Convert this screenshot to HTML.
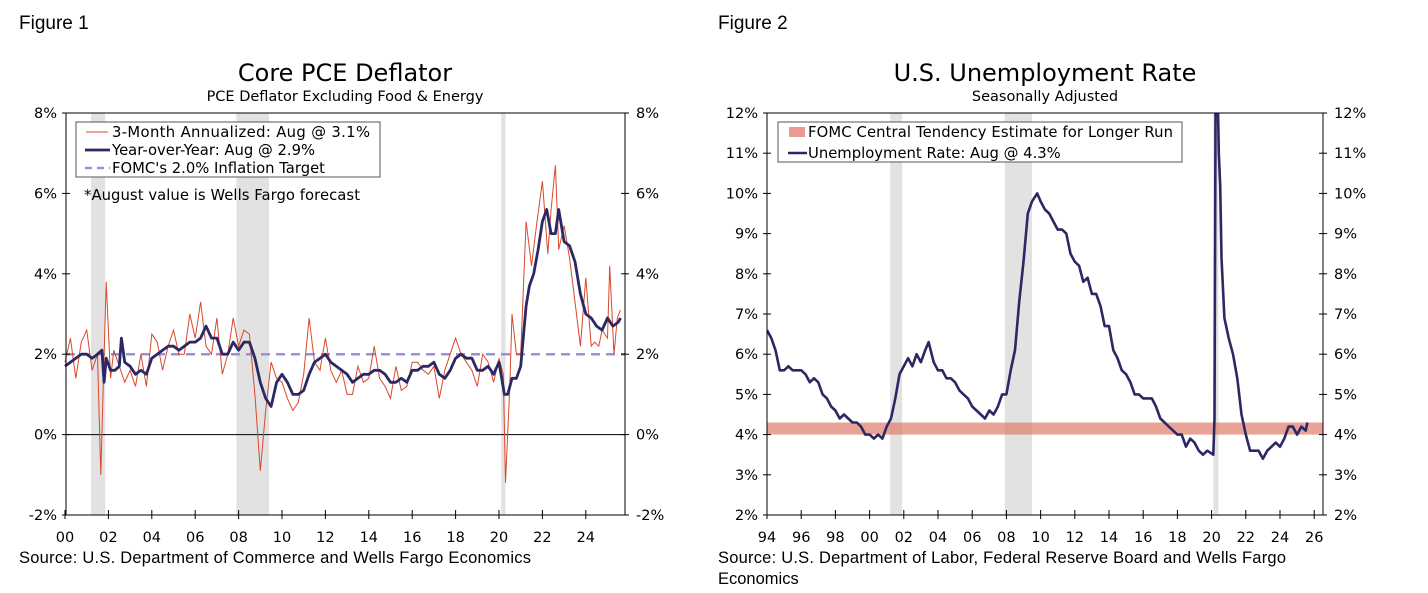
<!DOCTYPE html>
<html><head><meta charset="utf-8"><style>
html,body{margin:0;padding:0;background:#fff;}
svg{display:block;}
.fig{font-family:"Liberation Sans",sans-serif;font-size:19px;fill:#000;}
.src{font-family:"Liberation Sans",sans-serif;font-size:16.5px;fill:#000;}
.ttl{font-family:"DejaVu Sans","Liberation Sans",sans-serif;font-size:24px;fill:#000;}
.sub{font-family:"DejaVu Sans","Liberation Sans",sans-serif;font-size:14.5px;fill:#000;}
.tk{font-family:"DejaVu Sans","Liberation Sans",sans-serif;font-size:14.5px;fill:#000;}
.lg{font-family:"DejaVu Sans","Liberation Sans",sans-serif;font-size:14.8px;fill:#000;}
</style></head><body>
<svg id="page" width="1428" height="593" viewBox="0 0 1428 593">
<text class="fig" x="19" y="29">Figure 1</text>
<text class="fig" x="718" y="29">Figure 2</text>
<text class="ttl" x="345" y="81" text-anchor="middle">Core PCE Deflator</text>
<text class="sub" x="345" y="101" text-anchor="middle">PCE Deflator Excluding Food &amp; Energy</text>
<text class="ttl" x="1045" y="81" text-anchor="middle">U.S. Unemployment Rate</text>
<text class="sub" x="1045" y="101" text-anchor="middle">Seasonally Adjusted</text>
<text class="src" x="19" y="563" textLength="512">Source: U.S. Department of Commerce and Wells Fargo Economics</text>
<text class="src" x="718" y="563" textLength="568">Source: U.S. Department of Labor, Federal Reserve Board and Wells Fargo</text>
<text class="src" x="718" y="584">Economics</text>
<g id="c1"></g>
<g id="c2"></g>
</svg>
<script>
// ---------- Chart 1 data ----------
const pceYoyDates = [2000,2000.25,2000.5,2000.75,2001,2001.25,2001.5,2001.7,2001.8,2001.9,2002.1,2002.3,2002.5,2002.6,2002.75,2003,2003.25,2003.5,2003.75,2004,2004.25,2004.5,2004.75,2005,2005.25,2005.5,2005.75,2006,2006.25,2006.5,2006.75,2007,2007.25,2007.5,2007.75,2008,2008.25,2008.5,2008.75,2009,2009.25,2009.5,2009.75,2010,2010.25,2010.5,2010.75,2011,2011.25,2011.5,2011.75,2012,2012.25,2012.5,2012.75,2013,2013.25,2013.5,2013.75,2014,2014.25,2014.5,2014.75,2015,2015.25,2015.5,2015.75,2016,2016.25,2016.5,2016.75,2017,2017.25,2017.5,2017.75,2018,2018.25,2018.5,2018.75,2019,2019.25,2019.5,2019.75,2020,2020.25,2020.4,2020.6,2020.8,2021,2021.25,2021.4,2021.6,2021.8,2022,2022.2,2022.4,2022.6,2022.75,2023,2023.25,2023.5,2023.75,2024,2024.25,2024.5,2024.75,2025,2025.25,2025.5,2025.6];
const pceYoy = [1.7,1.8,1.9,2.0,2.0,1.9,2.0,2.1,1.3,1.9,1.6,1.6,1.7,2.4,1.8,1.7,1.5,1.6,1.5,1.9,2.0,2.1,2.2,2.2,2.1,2.2,2.3,2.3,2.4,2.7,2.4,2.4,2.0,2.0,2.3,2.1,2.3,2.3,1.9,1.3,0.9,0.7,1.3,1.5,1.3,1.0,1.0,1.1,1.5,1.8,1.9,2.0,1.8,1.7,1.6,1.5,1.3,1.4,1.5,1.5,1.6,1.6,1.5,1.3,1.3,1.4,1.3,1.6,1.6,1.7,1.7,1.8,1.5,1.4,1.6,1.9,2.0,1.9,1.9,1.6,1.6,1.7,1.5,1.8,1.0,1.0,1.4,1.4,1.7,3.2,3.7,4.0,4.6,5.3,5.6,5.0,5.0,5.6,4.8,4.7,4.3,3.5,3.0,2.9,2.7,2.6,2.9,2.7,2.8,2.9];
const pce3mDates = [2000,2000.25,2000.5,2000.75,2001,2001.25,2001.5,2001.65,2001.8,2001.9,2002.1,2002.25,2002.5,2002.75,2003,2003.25,2003.5,2003.75,2004,2004.25,2004.5,2004.75,2005,2005.25,2005.5,2005.75,2006,2006.25,2006.5,2006.75,2007,2007.25,2007.5,2007.75,2008,2008.25,2008.5,2008.75,2009,2009.25,2009.5,2009.75,2010,2010.25,2010.5,2010.75,2011,2011.25,2011.5,2011.75,2012,2012.25,2012.5,2012.75,2013,2013.25,2013.5,2013.75,2014,2014.25,2014.5,2014.75,2015,2015.25,2015.5,2015.75,2016,2016.25,2016.5,2016.75,2017,2017.25,2017.5,2017.75,2018,2018.25,2018.5,2018.75,2019,2019.25,2019.5,2019.75,2020,2020.2,2020.3,2020.5,2020.6,2020.8,2021,2021.25,2021.5,2021.75,2022,2022.25,2022.4,2022.6,2022.75,2023,2023.25,2023.5,2023.75,2024,2024.25,2024.4,2024.6,2024.75,2025,2025.1,2025.3,2025.45,2025.6];
const pce3m = [1.8,2.4,1.4,2.3,2.6,1.6,2.0,-1.0,2.0,3.8,1.4,2.1,1.7,1.3,1.6,1.2,2.0,1.2,2.5,2.3,1.6,2.2,2.6,2.0,2.0,3.0,2.4,3.3,2.2,2.0,2.9,1.5,2.0,2.9,2.2,2.6,2.5,1.0,-0.9,0.6,1.8,1.4,1.3,0.9,0.6,0.8,1.5,2.9,1.8,1.6,2.4,1.6,1.3,1.6,1.0,1.0,1.7,1.3,1.4,2.2,1.4,1.2,0.9,1.7,1.1,1.2,1.8,1.8,1.6,1.5,1.7,0.9,1.6,2.0,2.4,2.0,1.8,1.6,1.2,2.0,1.8,1.3,1.9,1.5,-1.2,1.2,3.0,2.0,2.0,5.3,4.2,5.3,6.3,4.5,5.6,6.7,4.6,5.2,4.4,3.3,2.2,3.9,2.2,2.3,2.2,2.6,2.4,4.2,2.0,2.9,3.1];
const pceTarget = [2.0];
const pceYTicks = [-2,0,2,4,6,8];
const pceXTicks = [2000,2002,2004,2006,2008,2010,2012,2014,2016,2018,2020,2022,2024];
const recessions1 = [[2001.2,2001.85],[2007.9,2009.4],[2020.1,2020.3]];
// ---------- Chart 2 data ----------
const urDates = [1994,1994.25,1994.5,1994.75,1995,1995.25,1995.5,1995.75,1996,1996.25,1996.5,1996.75,1997,1997.25,1997.5,1997.75,1998,1998.25,1998.5,1998.75,1999,1999.25,1999.5,1999.75,2000,2000.25,2000.5,2000.75,2001,2001.25,2001.5,2001.75,2002,2002.25,2002.5,2002.75,2003,2003.25,2003.45,2003.75,2004,2004.25,2004.5,2004.75,2005,2005.25,2005.5,2005.75,2006,2006.25,2006.5,2006.75,2007,2007.25,2007.5,2007.75,2008,2008.25,2008.5,2008.75,2009,2009.25,2009.5,2009.8,2010,2010.25,2010.5,2010.75,2011,2011.25,2011.5,2011.75,2012,2012.25,2012.5,2012.75,2013,2013.25,2013.5,2013.75,2014,2014.25,2014.5,2014.75,2015,2015.25,2015.5,2015.75,2016,2016.25,2016.5,2016.75,2017,2017.25,2017.5,2017.75,2018,2018.25,2018.5,2018.75,2019,2019.25,2019.5,2019.75,2020.1,2020.17,2020.25,2020.33,2020.42,2020.5,2020.58,2020.75,2021,2021.25,2021.5,2021.75,2022,2022.25,2022.5,2022.75,2023,2023.25,2023.5,2023.75,2024,2024.25,2024.5,2024.75,2025,2025.25,2025.5,2025.6];
const urValues = [6.6,6.4,6.1,5.6,5.6,5.7,5.6,5.6,5.6,5.5,5.3,5.4,5.3,5.0,4.9,4.7,4.6,4.4,4.5,4.4,4.3,4.3,4.2,4.0,4.0,3.9,4.0,3.9,4.2,4.4,4.9,5.5,5.7,5.9,5.7,6.0,5.8,6.1,6.3,5.8,5.6,5.6,5.4,5.4,5.3,5.1,5.0,4.9,4.7,4.6,4.5,4.4,4.6,4.5,4.7,5.0,5.0,5.6,6.1,7.3,8.3,9.5,9.8,10.0,9.8,9.6,9.5,9.3,9.1,9.1,9.0,8.5,8.3,8.2,7.8,7.9,7.5,7.5,7.2,6.7,6.7,6.1,5.9,5.6,5.5,5.3,5.0,5.0,4.9,4.9,4.9,4.7,4.4,4.3,4.2,4.1,4.0,4.0,3.7,3.9,3.8,3.6,3.5,3.6,3.5,4.4,14.8,13.2,11.0,10.2,8.4,6.9,6.4,6.0,5.4,4.5,4.0,3.6,3.6,3.6,3.4,3.6,3.7,3.8,3.7,3.9,4.2,4.2,4.0,4.2,4.1,4.3];
const urBand = [4.0,4.3];
const urYTicks = [2,3,4,5,6,7,8,9,10,11,12];
const urXTicks = [1994,1996,1998,2000,2002,2004,2006,2008,2010,2012,2014,2016,2018,2020,2022,2024,2026];
const recessions2 = [[2001.2,2001.9],[2007.9,2009.5],[2020.1,2020.4]];

const NS='http://www.w3.org/2000/svg';
function mk(parent,tag,attrs){const e=document.createElementNS(NS,tag);for(const k in attrs)e.setAttribute(k,attrs[k]);parent.appendChild(e);return e;}
function lab(yr){return String(yr%100).padStart(2,'0');}

function axes(g,X,Y,x0,x1,y0,y1,yTicks,xTicks){
  for(const t of yTicks){
    const tl=mk(g,'line',{x1:x0-4,x2:x0+4,y1:Y(t),y2:Y(t),stroke:'#000','stroke-width':1});
     
    const tr=mk(g,'line',{x1:x1-4,x2:x1+4,y1:Y(t),y2:Y(t),stroke:'#000','stroke-width':1});
     
    const a=mk(g,'text',{x:x0-9,y:Y(t)+5,'text-anchor':'end',class:'tk'});a.textContent=t+'%';
     
    const b=mk(g,'text',{x:x1+11,y:Y(t)+5,'text-anchor':'start',class:'tk'});b.textContent=t+'%';
     
  }
  for(const t of xTicks){
    const tk=mk(g,'line',{x1:X(t),x2:X(t),y1:y1-5,y2:y1+4,stroke:'#000','stroke-width':1});
     
    const a=mk(g,'text',{x:X(t),y:y1+27,'text-anchor':'middle',class:'tk'});a.textContent=lab(t);
     
  }
}
function line(g,X,Y,xs,ys,attrs,name){
  const d=xs.map((x,i)=>(i?'L':'M')+X(x).toFixed(1)+','+Y(ys[i]).toFixed(1)).join('');
  const p=mk(g,'path',Object.assign({d:d,fill:'none'},attrs));
   
  return p;
}

// ---- Chart 1 ----
(function(){
  const g=document.getElementById('c1');
  const x0=66,x1=625,y0=113,y1=515;
  const X=v=>65+(v-2000)*21.7;
  const Y=v=>y1-(v+2)*(y1-y0)/10;
  for(const r of recessions1){
    const e=mk(g,'rect',{x:X(r[0]),y:y0,width:X(r[1])-X(r[0]),height:y1-y0,fill:'#e2e2e2'});
     
  }
  const z=mk(g,'line',{x1:x0,x2:x1,y1:Y(0),y2:Y(0),stroke:'#000','stroke-width':1});
   
  const tl=mk(g,'line',{x1:x0,x2:x1,y1:Y(pceTarget[0]),y2:Y(pceTarget[0]),stroke:'#9b8fdc','stroke-width':2.5,'stroke-dasharray':'9,6'});
   
  line(g,X,Y,pce3mDates,pce3m,{stroke:'#d9482b','stroke-width':1},'three-month-annualized-line');
  line(g,X,Y,pceYoyDates,pceYoy,{stroke:'#2b2863','stroke-width':2.8,'stroke-linejoin':'round'},'year-over-year-line');
  const fr=mk(g,'rect',{x:x0,y:y0,width:x1-x0,height:y1-y0,fill:'none',stroke:'#000','stroke-width':1});
   
  axes(g,X,Y,x0,x1,y0,y1,pceYTicks,pceXTicks);
  const lg=mk(g,'g',{});
   
  mk(lg,'rect',{x:76,y:122,width:304,height:55,fill:'#fff',stroke:'#555','stroke-width':1});
  mk(lg,'line',{x1:86,x2:108,y1:132,y2:132,stroke:'#d9482b','stroke-width':1});
  mk(lg,'line',{x1:85,x2:110,y1:150,y2:150,stroke:'#2b2863','stroke-width':2.8});
  mk(lg,'line',{x1:85,x2:110,y1:168,y2:168,stroke:'#9b8fdc','stroke-width':2.5,'stroke-dasharray':'7,5'});
  const t1=mk(lg,'text',{x:112,y:137,class:'lg',textLength:258});t1.textContent='3-Month Annualized: Aug @ 3.1%';
  const t2=mk(lg,'text',{x:112,y:155,class:'lg'});t2.textContent='Year-over-Year: Aug @ 2.9%';
  const t3=mk(lg,'text',{x:112,y:173,class:'lg'});t3.textContent="FOMC's 2.0% Inflation Target";
  const n=mk(g,'text',{x:84,y:200,class:'lg',textLength:276});n.textContent='*August value is Wells Fargo forecast';
   
})();

// ---- Chart 2 ----
(function(){
  const g=document.getElementById('c2');
  const x0=767,x1=1323,y0=113,y1=515;
  const X=v=>767+(v-1994)*17.1;
  const Y=v=>y1-(v-2)*(y1-y0)/10;
  mk(g,'clipPath',{id:'clip2'}).appendChild(document.createElementNS(NS,'rect'));
  const cr=g.querySelector('#clip2 rect');cr.setAttribute('x',x0);cr.setAttribute('y',y0);cr.setAttribute('width',x1-x0);cr.setAttribute('height',y1-y0);
  for(const r of recessions2){
    const e=mk(g,'rect',{x:X(r[0]),y:y0,width:X(r[1])-X(r[0]),height:y1-y0,fill:'#e2e2e2'});
     
  }
  const b=mk(g,'rect',{x:x0,y:Y(urBand[1]),width:x1-x0,height:Y(urBand[0])-Y(urBand[1]),fill:'#e07b6a','fill-opacity':0.7});
   
  const p=line(g,X,Y,urDates,urValues,{stroke:'#2b2863','stroke-width':2.6,'stroke-linejoin':'round'},'unemployment-rate-line');
  p.setAttribute('clip-path','url(#clip2)');
  const fr=mk(g,'rect',{x:x0,y:y0,width:x1-x0,height:y1-y0,fill:'none',stroke:'#000','stroke-width':1});
   
  axes(g,X,Y,x0,x1,y0,y1,urYTicks,urXTicks);
  const lg=mk(g,'g',{});
   
  mk(lg,'rect',{x:778,y:122,width:404,height:40,fill:'#fff',stroke:'#555','stroke-width':1});
  mk(lg,'rect',{x:789,y:127,width:16,height:10,fill:'#e07b6a','fill-opacity':0.75});
  mk(lg,'line',{x1:788,x2:807,y1:153,y2:153,stroke:'#2b2863','stroke-width':2.6});
  const t1=mk(lg,'text',{x:808,y:137,class:'lg',textLength:365});t1.textContent='FOMC Central Tendency Estimate for Longer Run';
  const t2=mk(lg,'text',{x:808,y:158,class:'lg'});t2.textContent='Unemployment Rate: Aug @ 4.3%';
})();
</script>
</body></html>
